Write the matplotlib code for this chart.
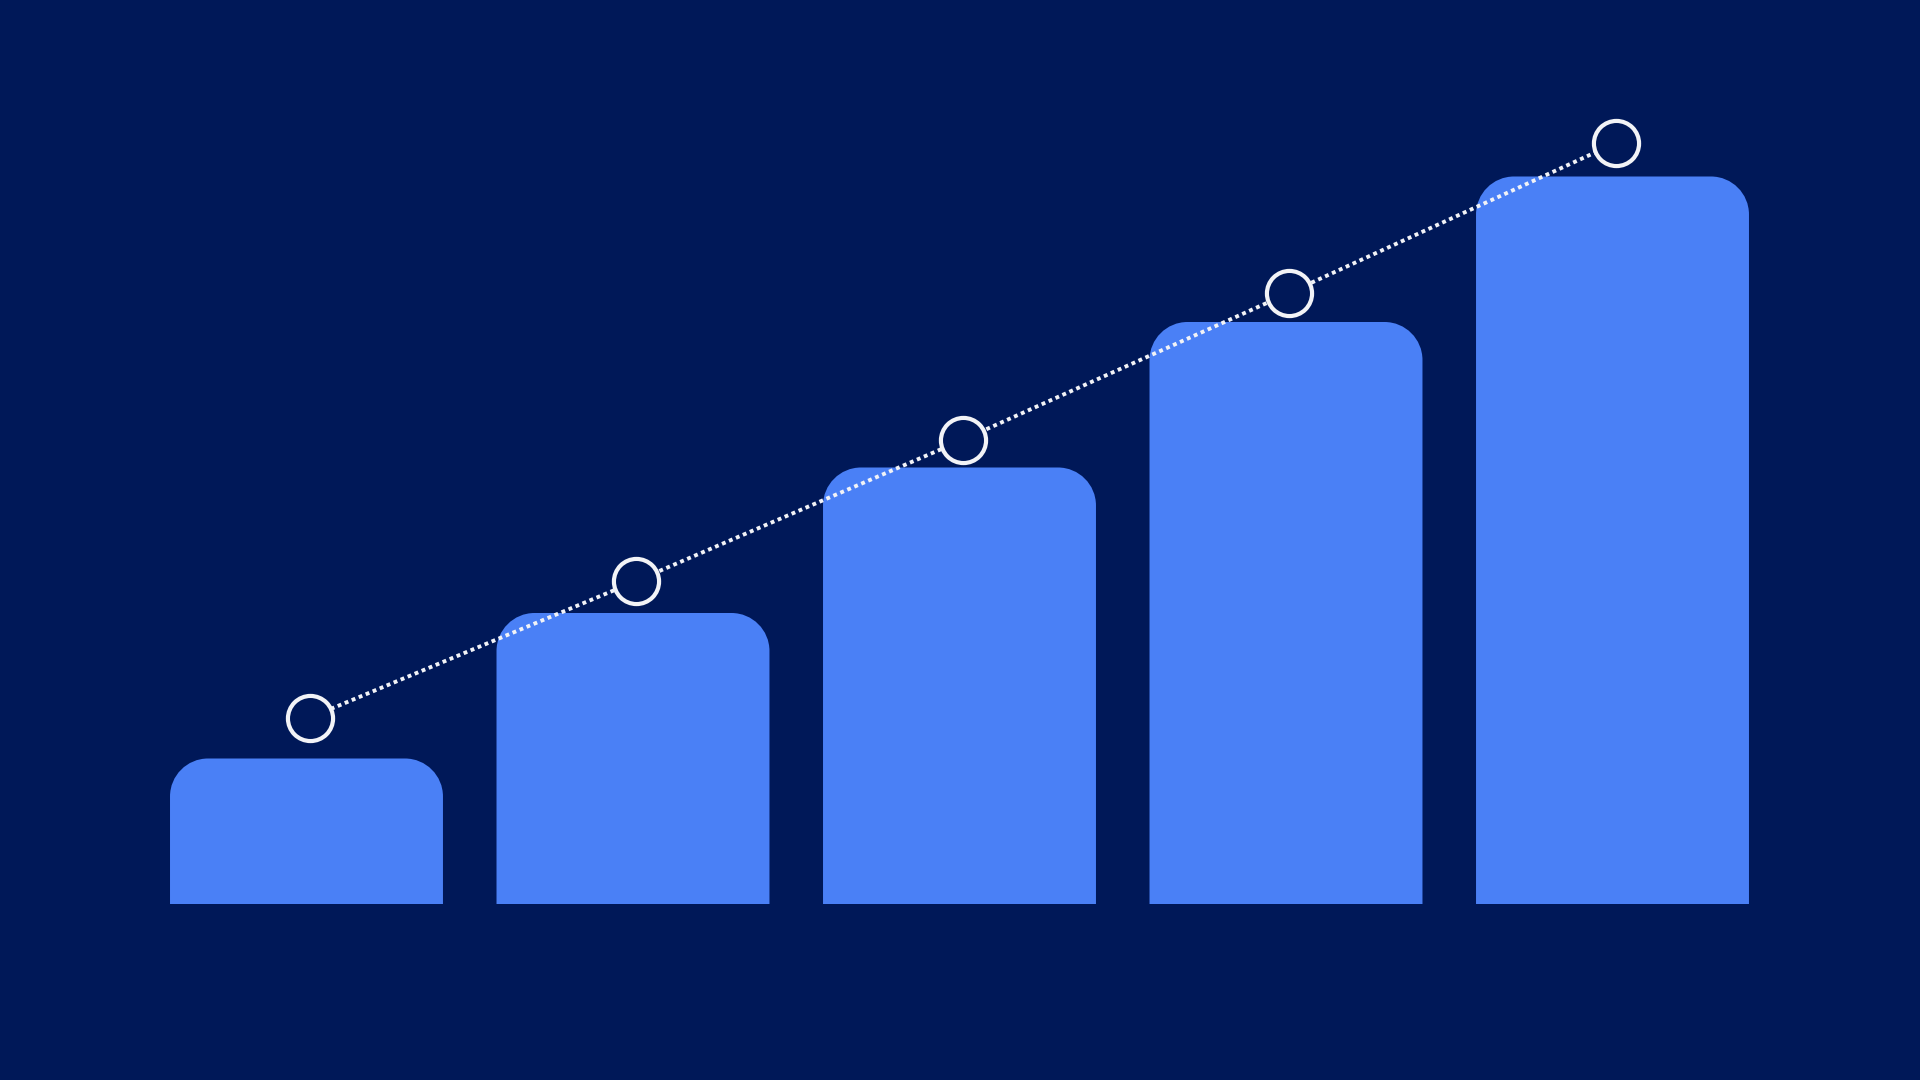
import numpy as np
import matplotlib
matplotlib.use("Agg")
import matplotlib.pyplot as plt
from matplotlib.path import Path
from matplotlib.patches import PathPatch

# data
categories = ["A", "B", "C", "D", "E"]
bar_values = [1, 2, 3, 4, 5]
line_values = [1.28, 2.22, 3.19, 4.20, 5.23]

bg = "#001858"
bar_color = "#4a80f6"
line_color = "#f2f3f7"

fig = plt.figure(figsize=(19.2, 10.8), dpi=100)
fig.patch.set_facecolor(bg)
ax = fig.add_axes([0, 0, 1, 1])
ax.set_facecolor(bg)
ax.set_xlim(-0.9387, 4.9418)
ax.set_ylim(-1.2096, 6.213)
ax.axis("off")

x = np.arange(len(categories))
width = 0.836

# corner radius in pixels, turned into data units for each axis
px_per_x = 1920 / (4.9418 + 0.9387)
px_per_y = 1080 / (6.213 + 1.2096)
rad = 38
rx = rad / px_per_x
ry = rad / px_per_y
k = 0.5523  # bezier constant for quarter circle


def rounded_top_bar(xc, h):
    x0 = xc - width / 2
    x1 = xc + width / 2
    verts = [
        (x0, 0),
        (x0, h - ry),
        (x0, h - ry + k * ry), (x0 + rx - k * rx, h), (x0 + rx, h),
        (x1 - rx, h),
        (x1 - rx + k * rx, h), (x1, h - ry + k * ry), (x1, h - ry),
        (x1, 0),
        (x0, 0),
    ]
    codes = [Path.MOVETO, Path.LINETO,
             Path.CURVE4, Path.CURVE4, Path.CURVE4,
             Path.LINETO,
             Path.CURVE4, Path.CURVE4, Path.CURVE4,
             Path.LINETO, Path.CLOSEPOLY]
    return PathPatch(Path(verts, codes), facecolor=bar_color, edgecolor="none", zorder=1)


for xi, v in zip(x, bar_values):
    ax.add_patch(rounded_top_bar(xi, v))

# dotted trend line behind the hollow circles, sits a touch right of bar centres
lx = x + 0.01
ax.plot(lx, line_values, color=line_color, lw=2.8, dashes=(1, 0.95),
        dash_capstyle="butt", zorder=2)
ax.plot(lx, line_values, linestyle="none", marker="o", markersize=32.5,
        markerfacecolor=bg, markeredgecolor=line_color, markeredgewidth=3.0, zorder=3)

fig.savefig("out.png", dpi=100, facecolor=bg)
